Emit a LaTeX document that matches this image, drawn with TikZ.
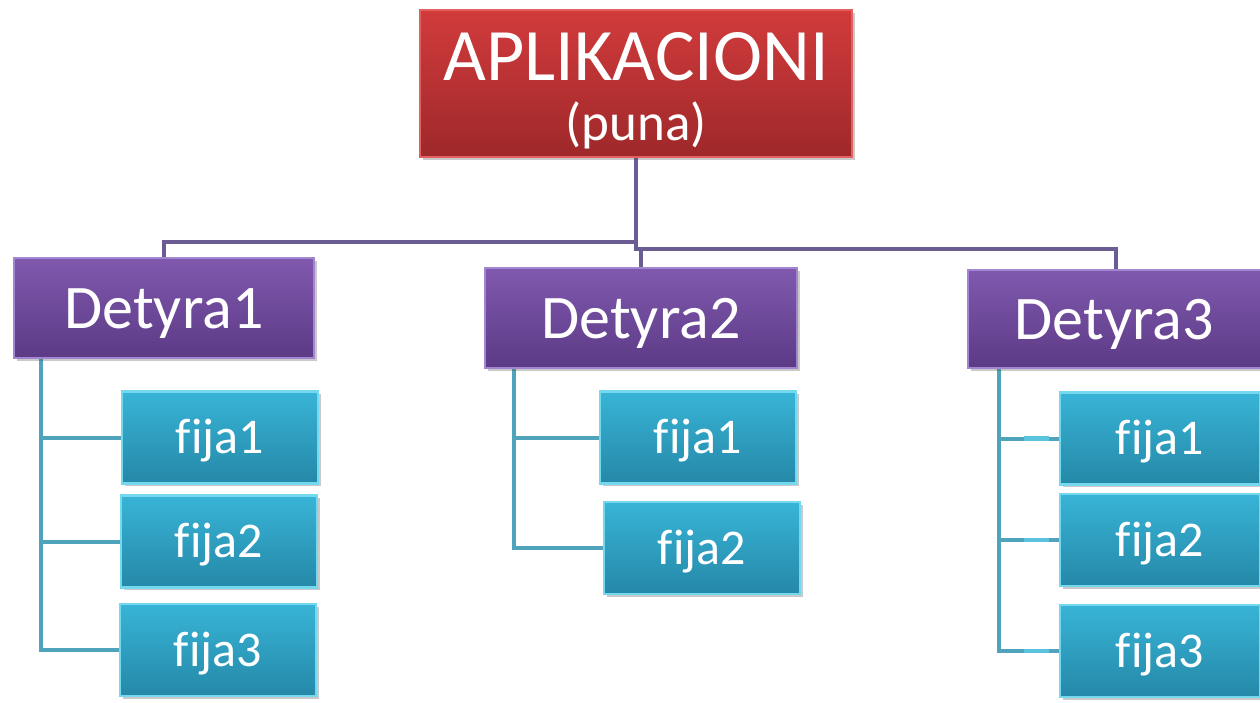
\documentclass[tikz,border=0pt]{standalone}
\usepackage{fontspec}
\setmainfont{Carlito}[Ligatures=NoCommon]
\usetikzlibrary{shadows,backgrounds}
\definecolor{redT}{HTML}{D23B3C}
\definecolor{redB}{HTML}{9E282A}
\definecolor{redE}{HTML}{E26060}
\definecolor{purT}{HTML}{8059AE}
\definecolor{purB}{HTML}{5C3A86}
\definecolor{purE}{HTML}{A286D2}
\definecolor{cyaT}{HTML}{38B4D6}
\definecolor{cyaB}{HTML}{2588A8}
\definecolor{cyaE}{HTML}{74D8EE}
\definecolor{connP}{HTML}{6B5C93}
\definecolor{connC}{HTML}{4FA3BB}
\definecolor{connHi}{HTML}{5BC3DD}
\newcommand{\fijatxt}[1]{f\kern0.4pt ija#1}
\begin{document}
\begin{tikzpicture}[x=1pt,y=-1pt,
  boxbase/.style={rectangle, inner sep=0pt, text=white, text depth=0pt,
    drop shadow={shadow xshift=2.5pt, shadow yshift=-2.5pt, opacity=0.3, fill=black!70}},
  appbox/.style={boxbase, top color=redT, bottom color=redB, draw=redE, line width=2.5pt},
  taskbox/.style={boxbase, top color=purT, bottom color=purB, draw=purE, line width=2.5pt,
    text height=40pt, font=\fontsize{62pt}{62pt}\selectfont},
  subbox/.style={boxbase, top color=cyaT, bottom color=cyaB, draw=cyaE, line width=2.5pt,
    minimum width=196pt, minimum height=92pt,
    text height=32pt, font=\fontsize{50pt}{50pt}\selectfont},
  apptext/.style={anchor=base, text=white, inner sep=0pt},
  connp/.style={draw=connP, line width=4pt},
  connc/.style={draw=connC, line width=4pt},
  connhi/.style={draw=connHi, line width=4.5pt}
]
\useasboundingbox (0,0) rectangle (1260,702);

\coordinate (jl) at (636,242);
\coordinate (jr) at (641,249);

\node[appbox, minimum width=432pt, minimum height=147pt] (app) at (636,83.5) {};
\node[apptext, font=\fontsize{74pt}{74pt}\selectfont] (apptitle) at (636,80) {APLIKACIONI};
\node[apptext, font=\fontsize{53pt}{53pt}\selectfont] (appsub) at (636,140) {(puna)};

\node[taskbox, minimum width=300pt, minimum height=100pt] (d1) at (164,308) {Detyra1};
\node[taskbox, minimum width=312pt, minimum height=100pt] (d2) at (641,318) {Detyra2};
\node[taskbox, minimum width=296pt, minimum height=98pt] (d3) at (1116,319) {\hspace*{-4pt}Detyra3};

\node[subbox] (f11) at (220,437.5) {\fijatxt{1}};
\node[subbox] (f12) at (219,541.5) {\fijatxt{2}};
\node[subbox] (f13) at (218,650) {\fijatxt{3}};

\node[subbox] (f21) at (698,437.5) {\fijatxt{1}};
\node[subbox] (f22) at (702,548) {\fijatxt{2}};

\node[subbox, minimum width=200pt] (f31) at (1160,438.5) {\fijatxt{1}};
\node[subbox, minimum width=200pt] (f32) at (1160,540) {\fijatxt{2}};
\node[subbox, minimum width=200pt] (f33) at (1160,651) {\fijatxt{3}};

\begin{scope}[on background layer]
\draw[connp] (app.south) -- (jl) -| (d1.north);
\draw[connp] (jl) |- (jr) -| (d3.north);
\draw[connp] (jr) -- (d2.north);

\draw[connc] ([xshift=28pt]d1.south west) |- (f11.west);
\draw[connc] ([xshift=28pt]d1.south west) |- (f12.west);
\draw[connc] ([xshift=28pt]d1.south west) |- (f13.west);

\draw[connc] ([xshift=30pt]d2.south west) |- (f21.west);
\draw[connc] ([xshift=30pt]d2.south west) |- (f22.west);

\draw[connc] ([xshift=32pt]d3.south west) |- (f31.west);
\draw[connc] ([xshift=32pt]d3.south west) |- (f32.west);
\draw[connc] ([xshift=32pt]d3.south west) |- (f33.west);
\coordinate (h1) at ([xshift=-35pt]f31.west);
\coordinate (h2) at ([xshift=-35pt]f32.west);
\coordinate (h3) at ([xshift=-35pt]f33.west);
\draw[connhi] (h1) -- ++(25,0);
\draw[connhi] (h2) -- ++(25,0);
\draw[connhi] (h3) -- ++(25,0);
\end{scope}
\end{tikzpicture}
\end{document}
